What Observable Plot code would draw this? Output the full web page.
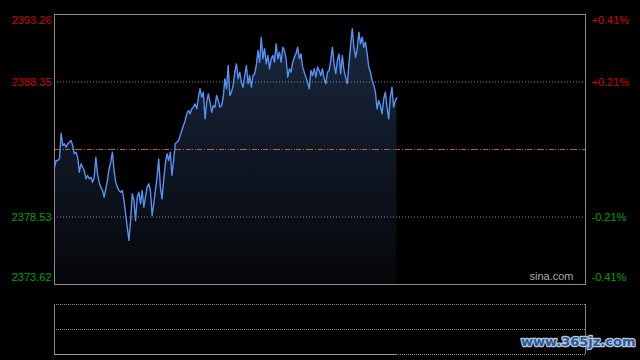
<!DOCTYPE html>
<html><head><meta charset="utf-8">
<script src="https://cdn.jsdelivr.net/npm/d3@7"></script>
<script src="https://cdn.jsdelivr.net/npm/@observablehq/plot@0.6"></script>
<style>
html,body{margin:0;padding:0;background:#000;width:640px;height:360px;overflow:hidden}
#main,#vol{position:absolute;left:0}
#main{top:0}
#vol{top:290px}
</style></head><body>
<div id="main"></div><div id="vol"></div>
<script>
// intraday index level, one value per sample, in time order
const prices = [
2382.15,2382.64,2382.64,2382.76,2384.63,2383.73,2383.85,2383.61,2383.85,2383.97,
2384.09,2383.73,2383.13,2383.24,2382.88,2381.79,2382.40,2382.15,2381.91,2381.31,
2381.55,2381.31,2381.43,2381.06,2381.43,2382.88,2381.67,2381.06,2380.70,2380.46,
2379.97,2380.58,2381.19,2382.04,2382.52,2383.24,2381.91,2381.06,2380.70,2380.46,
2380.33,2380.46,2379.73,2378.76,2377.79,2376.82,2378.28,2380.22,2379.73,2378.28,
2379.97,2380.33,2379.49,2380.46,2379.24,2379.97,2380.70,2380.95,2380.46,2378.64,
2379.49,2380.46,2381.43,2382.76,2380.70,2379.85,2381.19,2382.40,2383.13,2382.64,
2383.24,2381.55,2382.64,2383.85,2383.97,2384.09,2384.46,2384.82,2385.19,2385.55,
2386.04,2386.28,2386.04,2386.40,2386.52,2386.76,2386.40,2387.24,2387.86,2387.24,
2387.61,2385.67,2386.88,2387.49,2386.88,2386.15,2386.64,2386.52,2387.37,2387.00,
2386.52,2386.64,2387.24,2388.58,2387.86,2389.55,2387.37,2387.61,2388.10,2389.06,
2389.67,2388.58,2389.06,2388.34,2387.97,2388.82,2389.55,2388.22,2388.82,2387.97,
2388.82,2388.95,2389.55,2390.64,2389.79,2391.61,2390.04,2390.77,2389.67,2390.28,
2389.31,2390.04,2390.28,2389.79,2391.13,2390.04,2390.52,2389.79,2390.88,2390.64,
2390.04,2388.70,2389.31,2389.06,2389.79,2390.15,2390.40,2390.88,2390.04,2390.40,
2389.43,2389.06,2388.70,2388.34,2387.86,2389.19,2388.82,2389.31,2388.70,2389.43,
2389.19,2388.82,2389.31,2388.58,2388.22,2389.06,2389.19,2389.91,2390.88,2389.67,
2388.95,2389.91,2390.40,2388.95,2390.28,2389.19,2388.70,2388.22,2389.67,2391.01,
2392.22,2390.88,2390.15,2390.77,2391.97,2391.13,2391.61,2390.88,2391.25,2390.40,
2389.43,2389.06,2388.46,2388.10,2387.61,2386.40,2387.00,2386.64,2386.04,2387.13,
2387.61,2386.52,2385.67,2387.24,2387.97,2386.52,2387.00,2387.20
];
const prevClose = 2383.44;
const priceTicks = [2393.26, 2388.35, 2378.53, 2373.62];
const pctLabels = ["+0.41%", "+0.21%", "-0.21%", "-0.41%"];
const gridLevels = [2388.35, 2378.53];
const sessionSlots = 321;

const RED = "#d00000", GREEN = "#00a000";
const data = prices.map((v, i) => ({i, v}));
const labels = priceTicks.map((p, k) => ({k, p, pct: pctLabels[k], color: p > prevClose ? RED : GREEN}));

const gradientDefs = () => {
  const ns = "http://www.w3.org/2000/svg";
  const defs = document.createElementNS(ns, "defs");
  const g = document.createElementNS(ns, "linearGradient");
  g.setAttribute("id", "areaGrad");
  g.setAttribute("x1", "0"); g.setAttribute("y1", "0");
  g.setAttribute("x2", "0"); g.setAttribute("y2", "1");
  [["0%", "#1a283f"], ["100%", "#050609"]].forEach(([o, c]) => {
    const s = document.createElementNS(ns, "stop");
    s.setAttribute("offset", o); s.setAttribute("stop-color", c);
    g.appendChild(s);
  });
  defs.appendChild(g);
  return defs;
};

function labelMarks(filter, dy) {
  return [
    Plot.text(labels, {filter, y: "p", text: d => d.p.toFixed(2), frameAnchor: "left", textAnchor: "end", dx: -3, dy, fill: "color"}),
    Plot.text(labels, {filter, y: "p", text: "pct", frameAnchor: "right", textAnchor: "start", dx: 6, dy, fill: "color"})
  ];
}

const main = Plot.plot({
  width: 640, height: 290,
  marginLeft: 54, marginRight: 55, marginTop: 14, marginBottom: 6,
  style: {background: "#000", fontFamily: "'Liberation Sans', Arial, sans-serif", fontSize: "11px"},
  x: {domain: [0, sessionSlots], axis: null},
  y: {domain: [priceTicks[3], priceTicks[0]], axis: null},
  color: {type: "identity"},
  marks: [
    gradientDefs,
    Plot.areaY(data, {x: "i", y1: priceTicks[3], y2: "v", fill: "url(#areaGrad)"}),
    Plot.ruleY(gridLevels, {stroke: "#8a8a8a", strokeDasharray: "1,2"}),
    Plot.ruleY([prevClose], {stroke: "#7a7a7a", strokeDasharray: "1,2"}),
    Plot.ruleY([prevClose], {stroke: "#c0601c", strokeDasharray: "5,6"}),
    Plot.lineY(data, {x: "i", y: "v", stroke: "#5592f2", strokeWidth: 1.4}),
    Plot.frame({stroke: "#8a8a8a", strokeOpacity: 1}),
    ...labelMarks(d => d.k === 0, 6),
    ...labelMarks(d => d.k === 1 || d.k === 2, 0),
    ...labelMarks(d => d.k === 3, -7),
    Plot.text(["sina.com"], {frameAnchor: "bottom-right", textAnchor: "end", dx: -12, dy: -5, fill: "#a8a8a8"})
  ]
});
document.getElementById("main").append(main);

const vol = Plot.plot({
  width: 640, height: 70,
  marginLeft: 54, marginRight: 55, marginTop: 14, marginBottom: 6,
  style: {background: "transparent", fontFamily: "'DejaVu Sans', sans-serif"},
  x: {domain: [0, sessionSlots], axis: null},
  y: {domain: [0, 1], axis: null},
  marks: [
    Plot.ruleY([0, 0.5, 1], {stroke: "#8a8a8a", strokeDasharray: "1,1"}),
    Plot.ruleX([0, sessionSlots], {stroke: "#808080"}),
    Plot.ruleY([0], {x1: 0, x2: prices.length - 1, stroke: "#9a9a9a"}),
    Plot.text(["www.365jz.com"], {frameAnchor: "bottom-right", textAnchor: "end", dx: 50, dy: -9,
      fontSize: 13, fontWeight: "bold", fill: "#2a5a9a", stroke: "#b8c6da", strokeWidth: 2.5, paintOrder: "stroke"})
  ]
});
document.getElementById("vol").append(vol);
</script>
</body></html>
